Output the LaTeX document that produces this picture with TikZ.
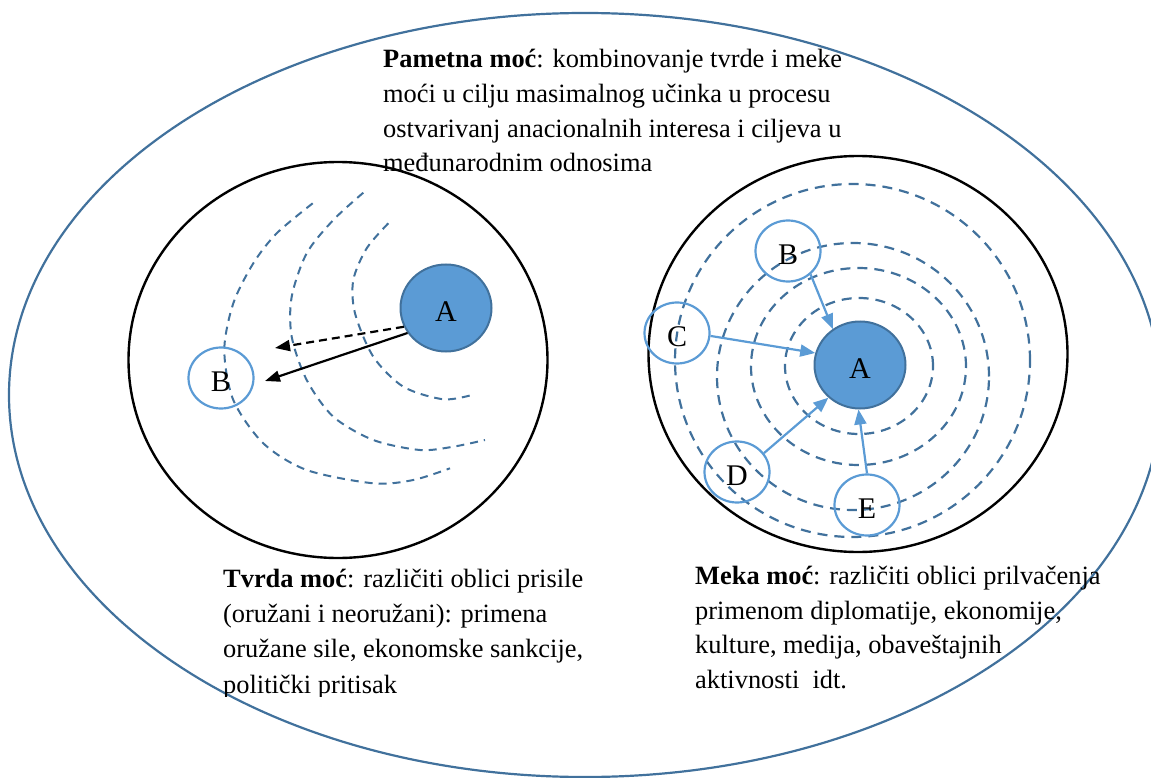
\documentclass[tikz,border=0pt]{standalone}
\usepackage{fontspec}
\setmainfont{Liberation Serif}
\usetikzlibrary{shapes.geometric,arrows.meta}
\definecolor{rim}{HTML}{41719C}
\definecolor{sky}{HTML}{5B9BD5}
\begin{document}
\begin{tikzpicture}[x=1pt,y=-1pt,
  zone/.style={ellipse,draw=black,line width=2.4pt,minimum width=419pt,minimum height=396pt,inner sep=0pt},
  letter/.style={font=\fontsize{30}{30}\selectfont,text height=27pt,text depth=0pt},
  core/.style={ellipse,draw=rim,fill=sky,line width=2pt,minimum width=91pt,minimum height=87pt,inner sep=0pt,letter},
  actor/.style={ellipse,draw=sky,line width=2.2pt,minimum width=65pt,minimum height=61pt,inner sep=0pt,letter},
  wave/.style={draw=rim,line width=2pt,dash pattern=on 8pt off 6pt},
  ring/.style={ellipse,draw=rim,line width=2.2pt,dash pattern=on 10pt off 7pt,inner sep=0pt},
  push/.style={draw=black,line width=2.2pt,-{Triangle[length=15pt,width=11pt]}},
  pull/.style={draw=sky,line width=2.2pt,-{Triangle[length=15pt,width=12pt]}},
  txt/.style={align=left,inner sep=0pt,anchor=base west}
]
\useasboundingbox (0,0) rectangle (1151,778);
\clip (0,0) rectangle (1151,778);

% smart power: the all-embracing ellipse
\node[ellipse,draw=rim,line width=2.2pt,minimum width=1152pt,minimum height=764pt,inner sep=0pt] (outer) at (585,395) {};

% hard power zone
\node[zone] (hardzone) at (338,360) {};
\draw[wave] plot[smooth] coordinates {(388.3,223.3) (366.7,248.3) (353.3,280) (355,313.3) (373.3,356.7) (403.3,386.7) (443.3,399.3) (471.7,395)};
\draw[wave] plot[smooth] coordinates {(363.3,192.7) (333.3,220) (306.7,253.3) (291.7,296.7) (291.7,336.7) (306.7,380) (333.3,416.7) (373.3,440) (420,450) (453.3,446.7) (485,440)};
\draw[wave] plot[smooth] coordinates {(312.7,203.3) (276.7,233.3) (253.3,263.3) (233.3,303.3) (224.3,350) (233.3,400) (263.3,443.3) (306.7,470) (373.3,483.3) (413.3,480) (450,468.3)};
\node[core] (hA) at (446,308) {A};
\node[actor] (hB) at (221,378) {B};
\coordinate (threatTip) at (275,348);
\coordinate (forceTip) at (265,381);
\draw[push,dash pattern=on 8pt off 5pt] (hA.204) -- (threatTip);
\draw[push] (hA.213) -- (forceTip);

% soft power zone
\node[zone] (softzone) at (858,354) {};
\node[ring,minimum width=355pt,minimum height=353pt] (r4) at (852.5,360.5) {};
\node[ring,minimum width=272pt,minimum height=267pt] (r3) at (853,376.5) {};
\node[ring,minimum width=215pt,minimum height=197pt] (r2) at (858.5,366.5) {};
\node[ring,minimum width=148pt,minimum height=136pt] (r1) at (859,366) {};
\node[core] (sA) at (860,365) {A};
\node[actor] (sB) at (788,251) {B};
\node[actor] (sC) at (677,333) {C};
\node[actor] (sD) at (737,472) {D};
\node[actor] (sE) at (867,505) {E};
\draw[pull] (sB.-46) -- (sA.127);
\draw[pull] (sC.-5) -- (sA.165);
\draw[pull] (sD.35) -- (sA.226);
\draw[pull] (sE.90) -- (sA.268);

% captions (anchored at the baseline of their last line)
\node[txt,font=\fontsize{26.4}{34.7}\selectfont] (tSmart) at (383,172) {\textbf{Pametna moć}: kombinovanje tvrde i meke\\moći u cilju masimalnog učinka u procesu\\ostvarivanj anacionalnih interesa i ciljeva u\\međunarodnim odnosima};
\begin{scope}
\clip (0,0) rectangle (1151,696);
\node[txt,font=\fontsize{26.4}{35.3}\selectfont] (tHard) at (223,693) {\textbf{Tvrda moć}: različiti oblici prisile\\(oružani i neoružani): primena\\oružane sile, ekonomske sankcije,\\politički pritisak};
\end{scope}
\node[txt,font=\fontsize{26.4}{34.4}\selectfont] (tSoft) at (695,688) {\textbf{Meka moć}: različiti oblici prilvačenja\\primenom diplomatije, ekonomije,\\kulture, medija, obaveštajnih\\aktivnosti~ idt.};
\end{tikzpicture}
\end{document}
